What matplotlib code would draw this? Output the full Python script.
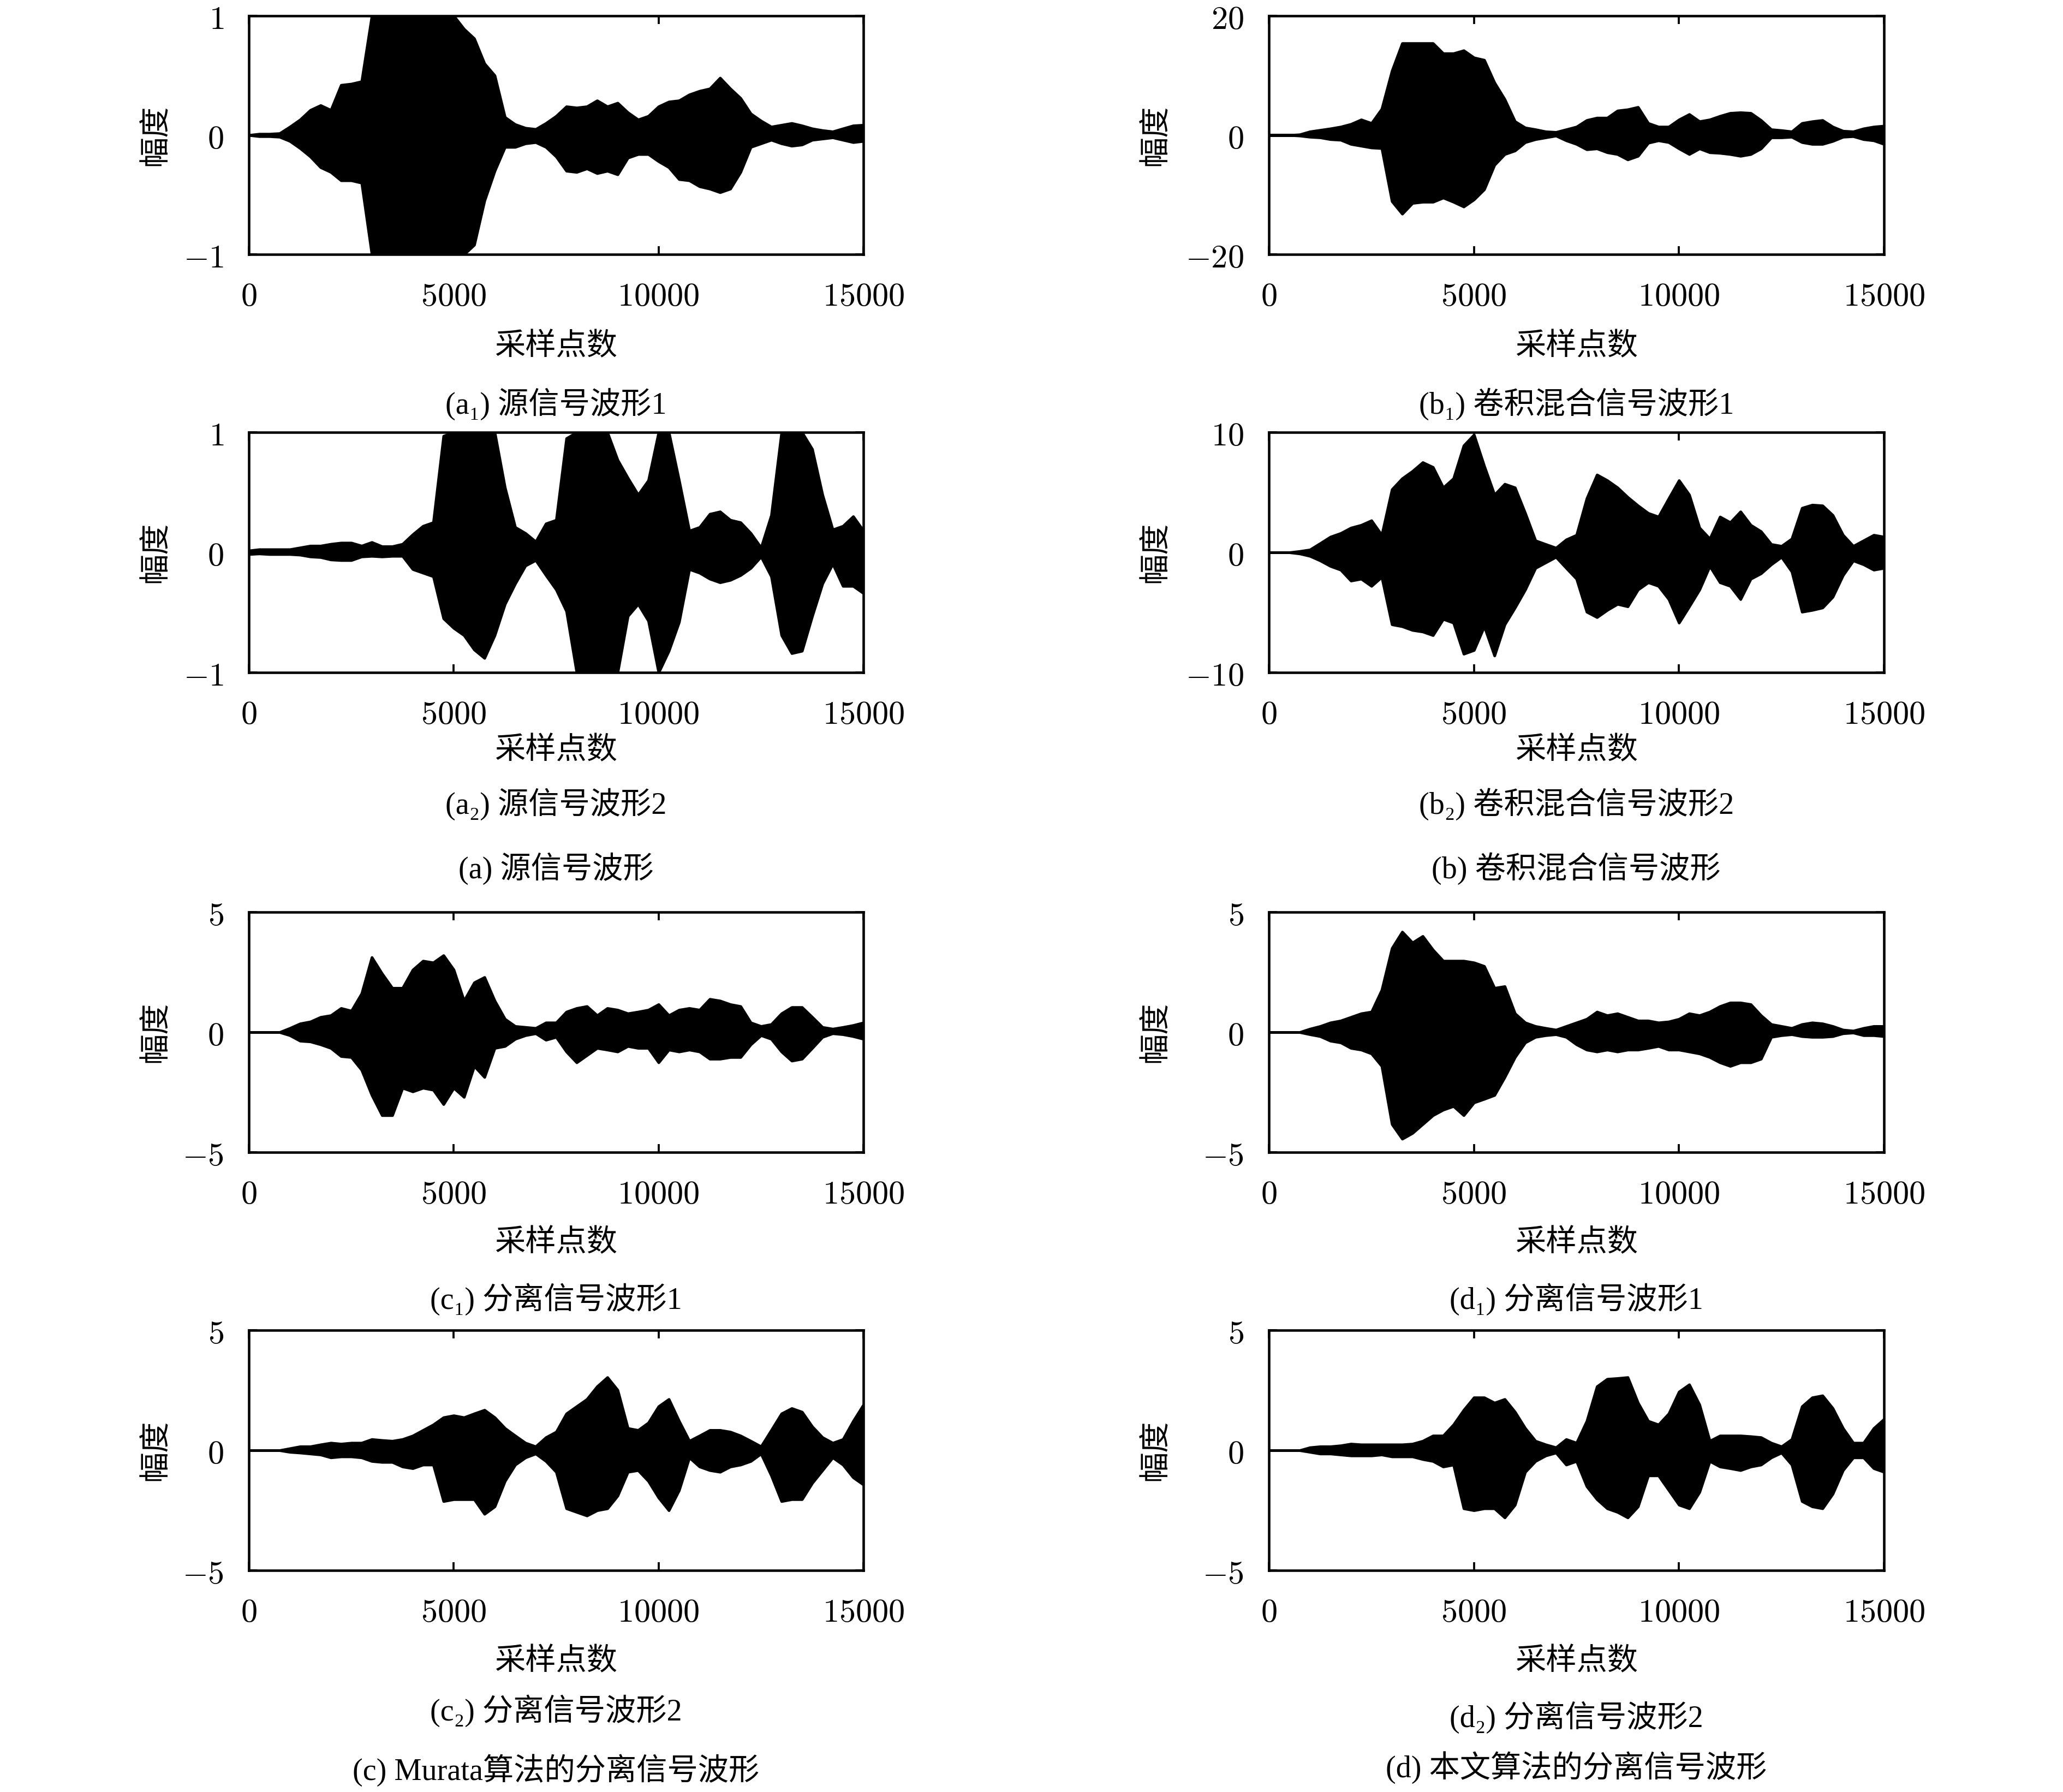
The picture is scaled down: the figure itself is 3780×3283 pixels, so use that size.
import numpy as np
import matplotlib
matplotlib.use("Agg")
import matplotlib.pyplot as plt

plt.rcParams['mathtext.fontset'] = 'cm'
plt.rcParams['font.family'] = ['Noto Sans CJK SC', 'DejaVu Sans']

# envelope of each waveform, read every 250 samples (0 .. 15000)
samples = np.arange(0, 15001, 250)

a1_up = [0, 0.01, 0.01, 0.015, 0.07, 0.13, 0.21, 0.25, 0.21, 0.42, 0.43, 0.45, 1, 1, 1, 1, 1, 1, 1, 1, 1, 0.89, 0.81, 0.6, 0.5, 0.15,
         0.09, 0.06, 0.05, 0.1, 0.16, 0.24, 0.23, 0.24, 0.29, 0.24, 0.27, 0.19, 0.13, 0.16, 0.24, 0.28, 0.29, 0.34, 0.37, 0.39,
         0.48, 0.39, 0.31, 0.18, 0.12, 0.07, 0.085, 0.1, 0.08, 0.055, 0.04, 0.03, 0.055, 0.08, 0.085]
a1_lo = [0, -0.01, -0.01, -0.015, -0.05, -0.11, -0.18, -0.27, -0.31, -0.38, -0.38, -0.4, -1, -1, -1, -1, -1, -1, -1, -1, -1, -1, -0.92,
         -0.55, -0.3, -0.1, -0.1, -0.07, -0.06, -0.1, -0.18, -0.3, -0.31, -0.28, -0.32, -0.3, -0.33, -0.19, -0.16, -0.16, -0.22,
         -0.27, -0.37, -0.38, -0.43, -0.45, -0.48, -0.45, -0.31, -0.1, -0.07, -0.04, -0.07, -0.09, -0.08, -0.04, -0.03, -0.02,
         -0.04, -0.06, -0.05]

b1_up = [0, 0, 0, 0.1, 0.6, 0.85, 1.1, 1.4, 1.85, 2.6, 2.0, 4.4, 10.8, 15.4, 15.4, 15.4, 15.4, 13.7, 13.7, 14.2, 13.0, 12.6, 8.8,
         6.0, 2.3, 1.25, 0.95, 0.6, 0.5, 0.95, 1.4, 2.5, 2.9, 2.9, 4.1, 4.3, 4.7, 2.0, 1.4, 1.4, 2.6, 3.5, 2.3, 2.6, 3.2, 3.7,
         3.8, 3.7, 2.5, 0.95, 0.8, 0.6, 2.0, 2.3, 2.5, 1.4, 0.7, 0.6, 1.1, 1.4, 1.55]
b1_lo = [0, 0, 0, -0.1, -0.3, -0.4, -0.7, -0.8, -1.5, -1.8, -2.1, -2.2, -11.1, -13.2, -11.4, -11.2, -11.2, -10.5, -11.2, -12.0,
         -10.8, -9.1, -5.0, -3.2, -2.6, -1.2, -0.7, -0.4, -0.1, -0.9, -1.5, -2.4, -2.25, -2.9, -3.2, -4.1, -3.5, -1.3, -0.9,
         -1.2, -2.25, -3.2, -2.25, -2.9, -3.0, -3.2, -3.5, -3.2, -2.25, -0.4, -0.4, -0.3, -1.2, -1.5, -1.5, -1.0, -0.3, -0.2,
         -0.7, -0.9, -1.5]

a2_up = [0.015, 0.025, 0.025, 0.025, 0.025, 0.04, 0.055, 0.055, 0.07, 0.08, 0.08, 0.055, 0.085, 0.05, 0.05, 0.07, 0.15, 0.22,
         0.25, 0.97, 1, 1, 1, 1, 1, 0.54, 0.21, 0.16, 0.09, 0.24, 0.27, 0.95, 1, 1, 1, 1, 0.77, 0.62, 0.48, 0.6, 1, 1, 0.6,
         0.18, 0.21, 0.32, 0.34, 0.27, 0.25, 0.16, 0.04, 0.31, 1, 1, 1, 0.86, 0.48, 0.19, 0.22, 0.3, 0.18]
a2_lo = [-0.015, -0.01, -0.015, -0.015, -0.015, -0.02, -0.035, -0.04, -0.06, -0.065, -0.065, -0.035, -0.03, -0.035, -0.03, -0.03,
         -0.14, -0.17, -0.2, -0.55, -0.63, -0.69, -0.81, -0.88, -0.69, -0.43, -0.26, -0.11, -0.065, -0.19, -0.31, -0.49, -1,
         -1, -1, -1, -1, -0.53, -0.43, -0.57, -1, -0.82, -0.58, -0.14, -0.17, -0.22, -0.25, -0.23, -0.19, -0.13, -0.035,
         -0.2, -0.69, -0.84, -0.82, -0.53, -0.26, -0.095, -0.28, -0.28, -0.34]

b2_up = [0, 0, 0, 0.1, 0.23, 0.76, 1.3, 1.6, 2.05, 2.28, 2.66, 1.45, 5.25, 6.16, 6.77, 7.5, 7.1, 5.4, 6.16, 8.9, 9.8, 7.2, 4.8,
         5.7, 5.4, 3.27, 0.99, 0.68, 0.38, 1.07, 1.45, 4.5, 6.47, 6.0, 5.4, 4.6, 3.9, 3.27, 2.97, 4.5, 6.0, 4.8, 2.05, 1.14,
         2.97, 2.5, 3.4, 2.28, 1.75, 0.68, 0.53, 1.14, 3.7, 3.96, 3.9, 3.1, 1.45, 0.53, 0.99, 1.45, 1.3]
b2_lo = [0, 0, 0, -0.1, -0.3, -0.68, -1.14, -1.45, -2.36, -2.2, -2.8, -2.05, -6.0, -6.16, -6.47, -6.6, -6.9, -5.55, -5.86,
         -8.45, -8.14, -6.16, -8.6, -6.0, -4.6, -3.1, -1.3, -0.84, -0.38, -1.3, -2.2, -4.95, -5.4, -4.8, -4.3, -4.5, -3.1,
         -2.5, -2.8, -3.9, -5.86, -4.5, -3.1, -1.14, -2.5, -2.8, -3.9, -2.2, -1.75, -1.0, -0.38, -1.6, -4.95, -4.8, -4.6,
         -3.7, -1.9, -0.68, -1.0, -1.45, -1.3]

c1_up = [0, 0, 0, 0, 0.17, 0.36, 0.44, 0.63, 0.7, 1.0, 0.89, 1.61, 3.12, 2.44, 1.84, 1.84, 2.6, 2.97, 2.9, 3.2, 2.6, 1.31, 2.07,
         2.29, 1.31, 0.55, 0.25, 0.21, 0.17, 0.4, 0.4, 0.85, 1.0, 1.08, 0.7, 1.0, 0.93, 0.78, 0.85, 0.93, 1.16, 0.7, 0.93,
         1.0, 0.93, 1.38, 1.31, 1.16, 1.08, 0.4, 0.25, 0.33, 0.78, 1.04, 1.04, 0.63, 0.21, 0.14, 0.21, 0.29, 0.4]
c1_lo = [0, 0, 0, 0, -0.13, -0.36, -0.39, -0.51, -0.66, -1.0, -1.04, -1.57, -2.62, -3.46, -3.46, -2.32, -2.47, -2.32, -2.4,
         -3.0, -2.32, -2.7, -1.41, -1.87, -0.66, -0.58, -0.28, -0.13, -0.05, -0.32, -0.2, -0.81, -1.26, -0.96, -0.66, -0.73,
         -0.81, -0.58, -0.66, -0.66, -1.26, -0.73, -0.81, -0.73, -0.81, -1.11, -1.11, -1.04, -1.04, -0.51, -0.13, -0.28,
         -0.81, -1.19, -1.11, -0.66, -0.2, -0.05, -0.09, -0.17, -0.28]

d1_up = [0, 0, 0, 0, 0.14, 0.25, 0.4, 0.48, 0.63, 0.78, 0.85, 1.76, 3.5, 4.18, 3.73, 4.0, 3.43, 2.97, 2.97, 2.97, 2.9, 2.75,
         1.84, 1.91, 0.78, 0.4, 0.25, 0.17, 0.1, 0.25, 0.4, 0.55, 0.85, 0.7, 0.78, 0.63, 0.48, 0.48, 0.4, 0.44, 0.55, 0.78,
         0.7, 0.85, 1.08, 1.23, 1.23, 1.16, 0.7, 0.33, 0.25, 0.17, 0.33, 0.4, 0.36, 0.25, 0.1, 0.06, 0.17, 0.25, 0.25]
d1_lo = [0, 0, 0, 0, -0.09, -0.17, -0.36, -0.43, -0.66, -0.73, -0.89, -1.41, -3.83, -4.44, -4.2, -3.83, -3.46, -3.23, -3.08,
         -3.46, -2.93, -2.78, -2.62, -1.87, -1.04, -0.43, -0.2, -0.13, -0.09, -0.2, -0.51, -0.73, -0.81, -0.73, -0.81,
         -0.73, -0.73, -0.66, -0.58, -0.73, -0.73, -0.81, -0.89, -1.04, -1.26, -1.41, -1.26, -1.26, -1.11, -0.2, -0.13,
         -0.09, -0.17, -0.2, -0.2, -0.17, -0.05, -0.02, -0.13, -0.13, -0.17]

c2_up = [0, 0, 0, 0, 0.08, 0.16, 0.16, 0.24, 0.31, 0.27, 0.31, 0.31, 0.46, 0.42, 0.39, 0.46, 0.61, 0.84, 1.07, 1.37, 1.45, 1.37,
         1.53, 1.68, 1.37, 0.92, 0.61, 0.31, 0.16, 0.54, 0.77, 1.53, 1.83, 2.13, 2.66, 3.04, 2.51, 0.92, 0.84, 1.15, 1.83,
         2.13, 1.22, 0.39, 0.61, 0.84, 0.84, 0.77, 0.61, 0.39, 0.16, 0.84, 1.53, 1.75, 1.6, 0.99, 0.54, 0.31, 0.46, 1.22, 1.9]
c2_lo = [0, 0, 0, 0, -0.07, -0.1, -0.14, -0.18, -0.3, -0.26, -0.26, -0.3, -0.45, -0.49, -0.49, -0.68, -0.75, -0.6, -0.6, -2.12,
         -2.04, -2.04, -2.04, -2.65, -2.34, -1.28, -0.6, -0.3, -0.14, -0.45, -0.9, -2.42, -2.57, -2.72, -2.5, -2.42, -1.89,
         -0.9, -0.83, -1.28, -1.97, -2.5, -1.66, -0.3, -0.68, -0.83, -0.9, -0.68, -0.6, -0.45, -0.14, -1.05, -2.12, -2.04,
         -2.04, -1.36, -0.83, -0.3, -0.6, -1.13, -1.43]

d2_up = [0, 0, 0, 0, 0.12, 0.16, 0.16, 0.2, 0.27, 0.24, 0.24, 0.24, 0.24, 0.24, 0.27, 0.39, 0.61, 0.61, 1.07, 1.68, 2.2, 2.2,
         1.98, 2.13, 1.6, 0.92, 0.39, 0.24, 0.12, 0.46, 0.31, 1.22, 2.66, 2.97, 3.0, 3.04, 1.98, 1.22, 1.07, 1.53, 2.44, 2.74,
         1.9, 0.39, 0.61, 0.61, 0.61, 0.58, 0.54, 0.31, 0.16, 0.46, 1.83, 2.2, 2.28, 1.75, 0.92, 0.31, 0.31, 0.92, 1.3]
d2_lo = [0, 0, 0, 0, -0.07, -0.14, -0.14, -0.18, -0.22, -0.22, -0.22, -0.18, -0.26, -0.26, -0.26, -0.37, -0.45, -0.68, -0.6,
         -2.42, -2.5, -2.42, -2.42, -2.8, -2.27, -0.9, -0.45, -0.22, -0.1, -0.6, -0.45, -1.5, -2.04, -2.42, -2.57, -2.8,
         -2.34, -1.05, -1.05, -1.66, -2.27, -2.42, -1.74, -0.45, -0.68, -0.75, -0.83, -0.68, -0.6, -0.3, -0.1, -0.6, -2.12,
         -2.34, -2.42, -1.81, -0.83, -0.3, -0.3, -0.75, -0.9]

x_ticks = [0, 5000, 10000, 15000]
x_label = '采样点数'
y_label = '幅度'

W, H = 3780, 3283
fig = plt.figure(figsize=(W / 300, H / 300), dpi=300)

serif_cjk = ['Liberation Serif', 'DejaVu Serif', 'Noto Sans CJK SC']

# (upper, lower, y limit, column, row, caption)
panels = [
    (a1_up, a1_lo, 1, 0, 0, '(a₁) 源信号波形1'),
    (b1_up, b1_lo, 20, 1, 0, '(b₁) 卷积混合信号波形1'),
    (a2_up, a2_lo, 1, 0, 1, '(a₂) 源信号波形2'),
    (b2_up, b2_lo, 10, 1, 1, '(b₂) 卷积混合信号波形2'),
    (c1_up, c1_lo, 5, 0, 2, '(c₁) 分离信号波形1'),
    (d1_up, d1_lo, 5, 1, 2, '(d₁) 分离信号波形1'),
    (c2_up, c2_lo, 5, 0, 3, '(c₂) 分离信号波形2'),
    (d2_up, d2_lo, 5, 1, 3, '(d₂) 分离信号波形2'),
]

col_x = [(456, 1582), (2325, 3452)]
row_y = [(29, 466), (792, 1232), (1671, 2111), (2437, 2877)]
xlabel_y = [634, 1374, 2276, 3043]
caption_y = [[740, 740], [1473, 1473], [2380, 2380], [3134, 3146]]
ylabel_x = [285, 2117]

for up, lo, lim, c, r, cap in panels:
    x0, x1 = col_x[c]
    y0, y1 = row_y[r]
    ax = fig.add_axes([x0 / W, 1 - y1 / H, (x1 - x0) / W, (y1 - y0) / H])
    ax.fill_between(samples, lo, up, color='black', linewidth=1.2)
    ax.set_xlim(0, 15000)
    ax.set_ylim(-lim, lim)
    ax.set_xticks(x_ticks)
    ax.set_xticklabels(['$%d$' % t for t in x_ticks])
    ax.set_yticks([-lim, 0, lim])
    ax.set_yticklabels(['$-%d$' % lim, '$0$', '$%d$' % lim])
    ax.tick_params(direction='in', top=True, right=True, length=3.6, width=0.9,
                   labelsize=14.5, pad=11)
    ax.tick_params(axis='x', pad=11)
    for s in ax.spines.values():
        s.set_linewidth(1.1)
    xc = (x0 + x1) / 2 / W
    fig.text(xc, 1 - xlabel_y[r] / H, x_label, ha='center', va='center', fontsize=13.5,
             family=['Noto Sans CJK SC'])
    fig.text(xc, 1 - caption_y[r][c] / H, cap, ha='center', va='center', fontsize=13.5,
             family=serif_cjk)
    fig.text(ylabel_x[c] / W, 1 - (y0 + y1) / 2 / H, y_label, ha='center', va='center',
             rotation=90, fontsize=13.5, family=['Noto Sans CJK SC'])

groups = [
    (1019, 1591, '(a) 源信号波形'),
    (2888, 1591, '(b) 卷积混合信号波形'),
    (1019, 3243, '(c) Murata算法的分离信号波形'),
    (2888, 3238, '(d) 本文算法的分离信号波形'),
]
for gx, gy, txt in groups:
    fig.text(gx / W, 1 - gy / H, txt, ha='center', va='center', fontsize=13.5, family=serif_cjk)

fig.savefig('out.png', dpi=300)
